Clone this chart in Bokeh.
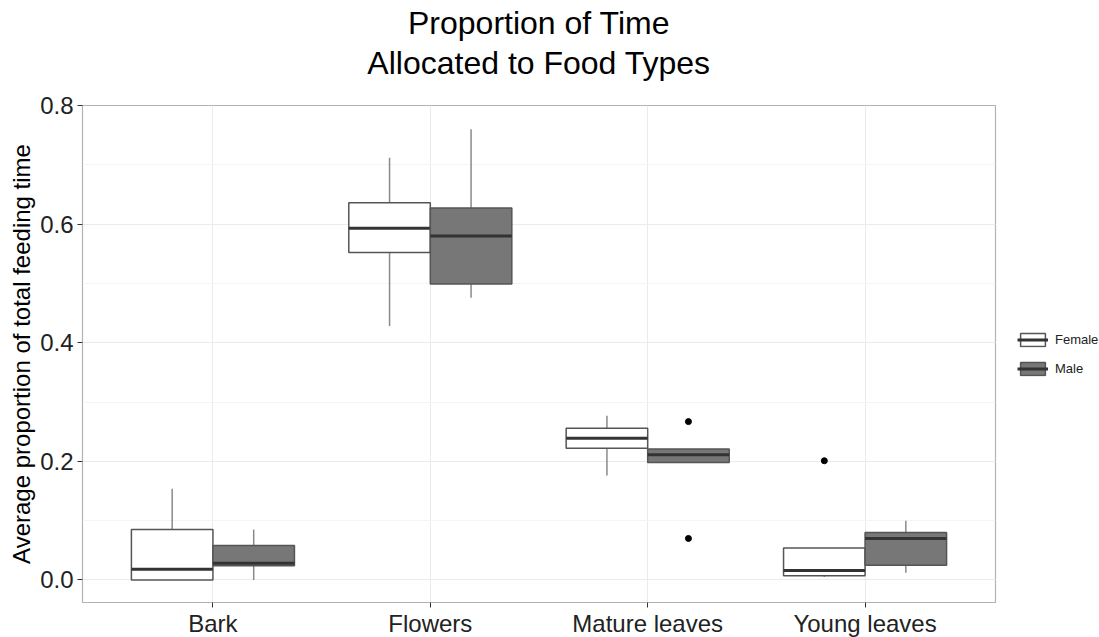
from bokeh.plotting import figure
from bokeh.models import (ColumnDataSource, FixedTicker, SingleIntervalTicker, Legend,
                          LegendItem, Title, Range1d)
from bokeh.transform import dodge
from bokeh.embed import file_html
from bokeh.resources import INLINE

# ---- data ----
categories = ["Bark", "Flowers", "Mature leaves", "Young leaves"]

female_lower = [0.000, 0.428, 0.176, 0.005]
female_q1 = [0.000, 0.552, 0.222, 0.007]
female_median = [0.018, 0.593, 0.239, 0.016]
female_q3 = [0.085, 0.636, 0.256, 0.054]
female_upper = [0.154, 0.712, 0.277, 0.054]

male_lower = [0.000, 0.476, 0.198, 0.012]
male_q1 = [0.024, 0.499, 0.198, 0.025]
male_median = [0.028, 0.580, 0.211, 0.070]
male_q3 = [0.058, 0.627, 0.221, 0.080]
male_upper = [0.085, 0.760, 0.221, 0.100]

female_outlier_cat = ["Young leaves"]
female_outlier_val = [0.201]
male_outlier_cat = ["Mature leaves", "Mature leaves"]
male_outlier_val = [0.267, 0.070]

title_lines = ["Proportion of Time", "Allocated to Food Types"]

# ---- styling ----
FONT = "Liberation Sans"
BOX_W = 0.375
OFF = BOX_W / 2

pos = list(range(1, len(categories) + 1))
src_f = ColumnDataSource(dict(x=pos, lo=female_lower, q1=female_q1, med=female_median,
                              q3=female_q3, hi=female_upper))
src_m = ColumnDataSource(dict(x=pos, lo=male_lower, q1=male_q1, med=male_median,
                              q3=male_q3, hi=male_upper))
out_f = ColumnDataSource(dict(x=[categories.index(c) + 1 for c in female_outlier_cat],
                              y=female_outlier_val))
out_m = ColumnDataSource(dict(x=[categories.index(c) + 1 for c in male_outlier_cat],
                              y=male_outlier_val))

p = figure(frame_width=913, frame_height=497, output_backend="svg", toolbar_location=None,
           x_range=Range1d(0.4, 4.6), y_range=Range1d(-0.038, 0.8),
           min_border_left=82, min_border_right=0, min_border_top=105, min_border_bottom=35)

p.title = None
p.add_layout(Title(text=title_lines[1], align="center", text_font=FONT,
                   text_font_size="32px", text_font_style="normal", text_color="#000000",
                   standoff=49, offset=0), "above")
p.add_layout(Title(text=title_lines[0], align="center", text_font=FONT,
                   text_font_size="32px", text_font_style="normal", text_color="#000000",
                   standoff=-44, offset=0), "above")

renderers = {}
for src, off, fill, name in [(src_f, -OFF, "#ffffff", "Female"), (src_m, OFF, "#777777", "Male")]:
    xd = dodge("x", off)
    p.segment(x0=xd, y0="q3", x1=xd, y1="hi", source=src, line_color="#8a8a8a", line_width=1.5)
    p.segment(x0=xd, y0="lo", x1=xd, y1="q1", source=src, line_color="#8a8a8a", line_width=1.5)
    box = p.vbar(x=xd, width=BOX_W, bottom="q1", top="q3", source=src, fill_color=fill,
                 line_color="#555555", line_width=1.5)
    med = p.segment(x0=dodge("x", off - BOX_W / 2), y0="med", x1=dodge("x", off + BOX_W / 2),
                    y1="med", source=src, line_color="#333333", line_width=3)
    renderers[name] = [box, med]

p.scatter(x=dodge("x", -OFF), y="y", source=out_f, size=6, color="black")
p.scatter(x=dodge("x", OFF), y="y", source=out_m, size=6, color="black")

legend = Legend(items=[LegendItem(label="Female", renderers=renderers["Female"]),
                       LegendItem(label="Male", renderers=renderers["Male"])],
                location="left", border_line_color=None, background_fill_alpha=0,
                label_text_font=FONT, label_text_font_size="13px", label_text_color="#222222",
                glyph_width=31, glyph_height=16, spacing=13, padding=0, margin=22,
                label_standoff=7)
p.add_layout(legend, "right")

# axes
p.xaxis.ticker = FixedTicker(ticks=pos)
p.xaxis.major_label_overrides = {i + 1: c for i, c in enumerate(categories)}
p.yaxis.ticker = SingleIntervalTicker(interval=0.2, num_minor_ticks=2)
p.yaxis.major_label_overrides = {0.0: "0.0", 0.2: "0.2", 0.4: "0.4", 0.6: "0.6", 0.8: "0.8"}
p.yaxis.axis_label = "Average proportion of total feeding time"
for ax in (p.xaxis, p.yaxis):
    ax.axis_line_color = None
    ax.major_tick_line_color = "#333333"
    ax.major_tick_out = 5
    ax.major_tick_in = 0
    ax.minor_tick_line_color = None
    ax.major_label_text_font = FONT
    ax.major_label_text_font_size = "24px"
    ax.major_label_text_color = "#222222"
    ax.major_label_standoff = 4
    ax.axis_label_text_font = FONT
    ax.axis_label_text_font_size = "24px"
    ax.axis_label_text_font_style = "normal"
    ax.axis_label_text_color = "#000000"
p.yaxis.axis_label_standoff = 2
p.xaxis.major_label_standoff = 2

p.xgrid.grid_line_color = "#ebebeb"
p.ygrid.grid_line_color = "#ebebeb"
p.ygrid.minor_grid_line_color = "#f4f4f4"
p.outline_line_color = "#b3b3b3"
p.outline_line_width = 1.2
p.background_fill_color = "white"

open("out.html", "w").write(file_html(p, INLINE))
